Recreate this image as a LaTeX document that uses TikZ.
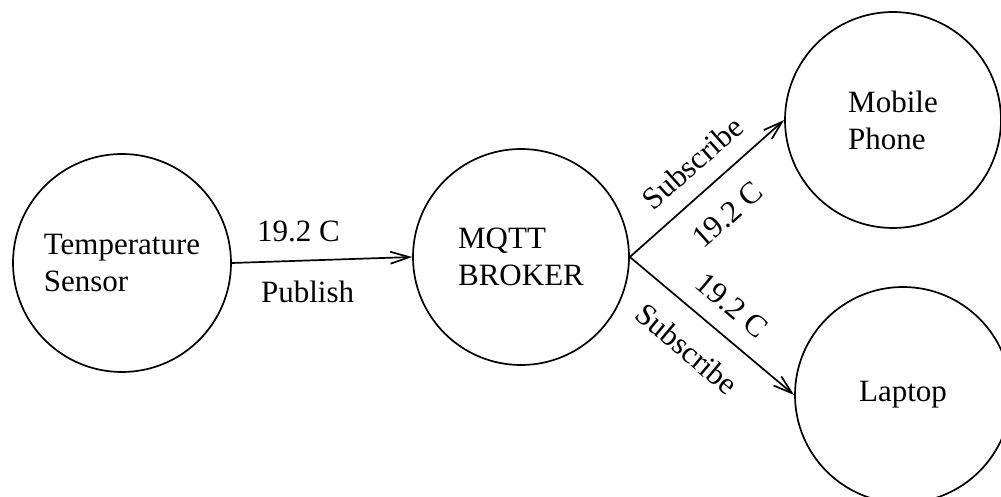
\documentclass[tikz,border=0pt]{standalone}
\usepackage{fontspec}
\setmainfont{Liberation Serif}
\usetikzlibrary{arrows.meta}
\begin{document}
\begin{tikzpicture}[x=1pt,y=-1pt,
  station/.style={circle,draw,line width=1.7pt,inner sep=0pt,minimum size=216pt,
    align=left,font=\fontsize{31}{37}\selectfont},
  flow/.style={line width=1.7pt,-{Straight Barb[length=19pt,width=12pt,line width=1.7pt]}},
  tag/.style={inner sep=0pt,font=\fontsize{31}{37}\selectfont}]
\useasboundingbox (0,0) rectangle (1001,497);
\clip (0,0) rectangle (1001,497);

% devices and broker
\node[station,minimum size=218pt] (sensor) at (122,263) {Temperature\\Sensor};
\node[station] (broker) at (521,257) {MQTT\\BROKER};
\node[station] (phone)  at (893,120) {Mobile\\Phone};
\node[station] (laptop) at (903,395) {Laptop};

% publish from the sensor to the broker
\draw[flow] (sensor.east) --
  node[tag,pos=0.37,above=18pt] {19.2 C}
  node[tag,pos=0.42,below=20pt] {Publish} (broker.west);

% subscriptions delivered by the broker
\draw[flow] (broker.east) --
  node[tag,sloped,pos=0.53,above=17pt] {Subscribe}
  node[tag,sloped,pos=0.49,below=22pt] {19.2 C} (phone.west);
\draw[flow] (broker.east) --
  node[tag,sloped,pos=0.51,above=17pt] {19.2 C}
  node[tag,sloped,pos=0.48,below=22pt] {Subscribe} (laptop.west);
\end{tikzpicture}
\end{document}
